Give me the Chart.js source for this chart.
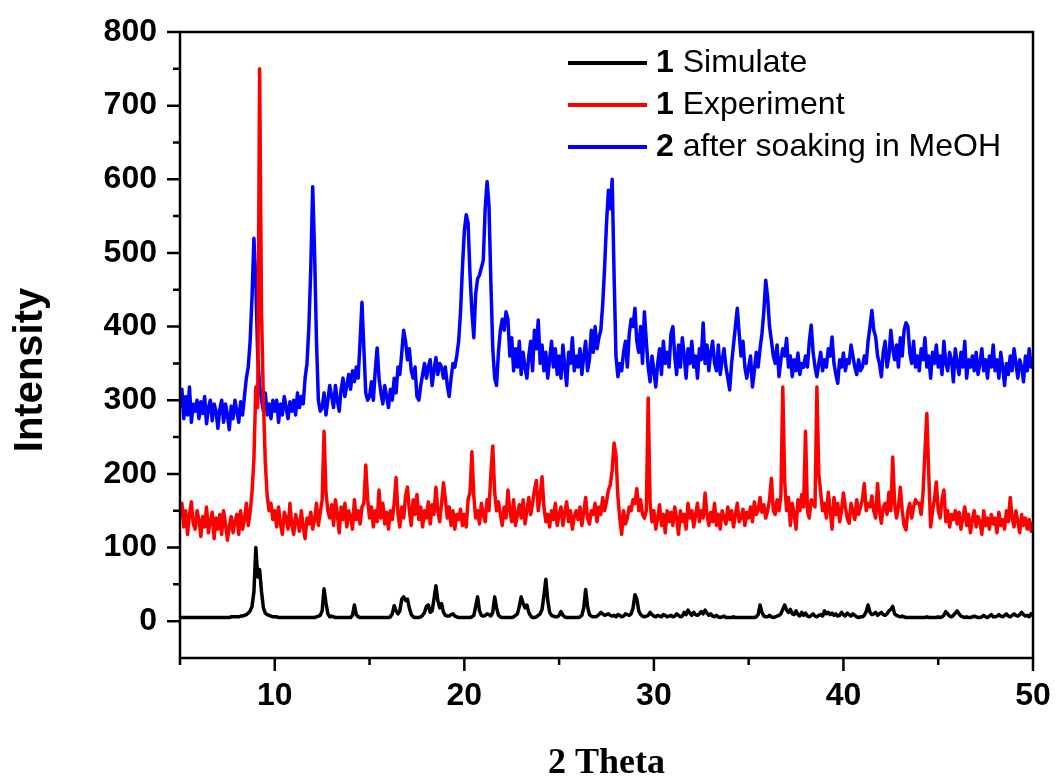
<!DOCTYPE html>
<html lang="en">
<head>
  <meta charset="UTF-8">
  <title>PXRD patterns</title>
  <script src="https://cdn.jsdelivr.net/npm/chart.js"></script>
  <style>
    body { margin: 0; background: #fff; }
    #wrap { width: 1058px; height: 782px; }
  </style>
</head>
<body>
  <div id="wrap"><canvas id="xrd" width="1058" height="782"></canvas></div>

  <script>
    // 2-theta grid: 5.0 to 50.0 in steps of 0.1 degree
    const thetaStart = 5;
    const thetaStep = 0.1;

    // tick values on the axes
    const xTickLabels = [10, 20, 30, 40, 50];
    const yTickLabels = [0, 100, 200, 300, 400, 500, 600, 700, 800];

    // legend text: bold prefix + plain text
    const seriesPrefix = ['1', '1', '2'];
    const seriesNames = ['Simulate', 'Experiment', 'after soaking in MeOH'];
    const seriesColors = ['#000000', '#ff0000', '#0000ff'];

    // 1 Simulate (one row per degree, 5.0 ... 49.9, then 50.0)
    const simulate = [
      5,5,5,5,5,5,5,5,5,5,
      5,5,5,5,5,5,5,5,5,5,
      5,5,5,5,5,5,5,6,6,6,
      6,6,7,7,8,9,11,14,20,40,
      100,60,70,40,18,11,9,8,7,6,
      6,6,5,5,5,5,5,5,5,5,
      5,5,5,5,5,5,5,5,5,5,
      5,5,6,7,8,14,44,25,10,6,
      7,6,5,5,5,5,5,5,5,5,
      5,8,22,9,6,5,5,5,5,5,
      5,5,5,5,5,5,5,5,5,5,
      5,6,10,21,14,10,14,30,33,28,
      30,18,9,6,5,5,5,6,8,12,
      20,22,12,14,30,48,28,18,24,12,
      8,7,7,9,10,7,6,5,5,5,
      5,5,5,5,6,8,20,33,14,8,
      7,8,10,9,7,12,33,18,8,6,
      5,5,5,5,5,5,6,8,10,20,
      33,24,18,22,12,7,5,5,6,8,
      10,16,35,57,28,12,8,7,6,6,
      8,13,8,6,5,5,5,5,5,5,
      5,6,8,18,43,20,9,7,6,6,
      7,9,12,10,8,9,10,8,7,8,
      6,9,8,6,7,10,9,8,10,18,
      36,30,14,9,7,6,7,8,12,9,
      7,6,8,7,6,9,8,6,7,8,
      6,7,10,8,6,7,12,9,15,11,
      8,12,9,8,10,13,10,15,11,8,
      10,7,6,8,6,5,6,7,5,5,
      5,5,6,5,5,5,5,5,5,5,
      5,5,5,5,6,9,22,12,7,6,
      6,8,6,5,6,7,8,10,16,22,
      15,12,16,10,9,14,9,7,12,8,
      11,7,6,8,10,7,6,8,9,7,
      14,10,12,9,11,8,10,7,8,12,
      9,7,11,9,7,10,8,6,5,6,
      6,8,13,22,12,9,10,12,8,10,
      12,9,8,10,14,16,20,10,8,7,
      6,7,6,5,5,5,5,5,5,5,
      5,5,5,5,6,5,5,5,5,5,
      6,5,6,8,13,10,7,6,8,11,
      14,10,7,6,5,6,5,5,6,7,
      6,5,5,6,8,6,5,7,9,6,
      6,7,9,7,6,8,10,7,6,8,
      10,8,7,9,12,9,7,8,6,10,
      8
    ];

    // 1 Experiment
    const experiment = [
      140,160,128,150,118,145,162,132,125,150,
      138,115,142,128,155,120,135,148,112,140,
      125,145,118,150,132,110,128,142,120,135,
      145,118,150,125,138,160,130,148,175,220,
      318,290,750,420,300,215,170,150,160,138,
      150,128,155,132,118,148,140,125,160,130,
      118,145,135,122,150,128,112,140,132,148,
      125,138,160,130,148,165,258,175,150,140,
      158,130,165,145,120,155,138,160,128,150,
      142,125,165,138,150,132,155,160,212,165,
      140,155,128,150,135,178,140,160,132,148,
      125,150,138,160,195,145,128,155,140,170,
      182,150,130,165,145,172,138,155,128,150,
      140,162,132,158,145,182,150,135,160,188,
      165,140,155,130,150,125,145,138,152,130,
      145,128,165,175,230,170,140,150,132,160,
      145,135,165,150,200,238,175,150,162,145,
      130,155,140,178,150,135,165,130,145,158,
      140,165,132,150,168,145,160,178,191,150,
      170,196,155,135,145,128,150,138,160,130,
      145,155,130,148,162,135,150,125,142,150,
      138,155,130,148,168,140,132,150,145,160,
      135,155,145,168,150,162,178,185,205,242,
      225,170,140,118,150,132,140,155,150,165,
      160,180,150,165,145,140,150,303,160,135,
      150,125,140,158,130,145,120,150,135,148,
      130,155,140,118,150,135,145,125,160,140,
      150,128,145,160,135,150,140,174,145,130,
      148,135,160,130,145,125,150,140,132,155,
      138,150,128,145,160,135,140,152,130,148,
      140,155,135,162,145,150,168,148,158,140,
      150,165,194,150,145,165,150,170,318,190,
      150,168,130,160,145,125,165,150,172,155,
      258,150,140,165,160,155,318,200,174,150,
      160,140,175,150,125,168,145,160,135,150,
      174,155,140,133,160,150,138,165,145,155,
      165,187,150,160,155,170,150,140,187,150,
      133,155,160,145,175,150,223,160,140,155,
      182,150,130,124,150,160,140,155,165,160,
      160,145,175,230,282,200,128,150,165,189,
      150,140,165,178,135,150,128,145,138,150,
      132,148,125,140,155,130,145,120,138,150,
      128,142,135,118,150,130,140,125,145,132,
      140,120,148,130,138,125,150,135,168,140,
      128,150,135,120,145,130,140,125,138,122,
      135
    ];

    // 2 after soaking in MeOH
    const soaked = [
      290,315,275,305,280,318,270,295,285,300,
      275,298,282,305,268,290,300,272,295,285,
      262,288,300,270,295,280,260,292,275,300,
      285,270,298,280,305,330,345,380,440,520,
      460,360,320,300,285,310,280,295,275,300,
      285,300,270,295,280,305,290,275,298,285,
      300,280,310,290,305,295,330,350,400,480,
      590,500,380,300,285,290,310,280,300,320,
      305,290,320,300,285,315,330,305,320,335,
      315,340,325,345,330,380,433,370,310,300,
      305,325,300,340,371,330,310,295,320,305,
      290,315,300,330,310,345,335,365,395,380,
      355,370,340,330,345,305,300,320,335,350,
      330,345,355,320,340,358,335,350,345,330,
      345,320,305,330,350,345,360,380,420,480,
      530,552,540,470,420,385,445,465,470,480,
      490,560,597,565,460,370,330,320,365,395,
      410,395,420,410,360,385,340,370,345,380,
      335,365,345,330,360,380,340,395,370,409,
      350,375,340,365,330,355,380,345,370,335,
      360,330,375,345,320,365,350,385,340,360,
      345,370,335,360,380,340,355,395,365,400,
      370,385,395,430,480,540,585,560,600,470,
      360,332,350,340,365,380,345,390,410,400,
      425,380,365,400,350,420,380,345,325,360,
      340,318,350,370,335,380,350,365,345,390,
      400,360,335,375,345,385,360,330,370,350,
      380,345,360,330,370,355,405,350,375,340,
      365,380,350,340,375,335,355,370,345,330,
      314,350,375,400,425,390,360,380,345,330,
      345,360,318,340,365,345,370,390,420,463,
      440,400,381,360,350,375,332,355,370,360,
      384,345,360,332,355,340,364,335,350,345,
      360,345,380,402,365,345,332,350,365,340,
      355,345,370,360,386,350,335,323,355,345,
      364,340,355,350,375,360,345,335,355,340,
      345,360,350,380,400,422,395,386,360,350,
      332,365,380,345,360,395,370,355,375,345,
      385,360,395,405,400,365,350,380,345,360,
      340,370,355,385,345,360,330,365,350,375,
      345,360,335,380,350,340,365,355,325,370,
      350,335,365,345,380,330,355,345,360,340,
      365,335,350,370,340,355,330,360,345,375,
      340,355,330,365,345,320,350,335,360,340,
      370,350,330,355,345,325,360,340,370,345,
      355
    ];

    function toPoints(values) {
      return values.map((v, i) => ({ x: +(thetaStart + i * thetaStep).toFixed(1), y: v }));
    }

    const sansFont = "'Liberation Sans', Arial, sans-serif";
    Chart.defaults.font.family = sansFont;
    Chart.defaults.color = '#000';

    // box frame, outward ticks, y title and the legend
    const frameAndLegend = {
      id: 'frameAndLegend',
      afterDraw(chart) {
        const { ctx, chartArea: a, scales: { x, y } } = chart;
        ctx.save();
        ctx.strokeStyle = '#000';
        ctx.lineWidth = 2.5;
        ctx.strokeRect(a.left, a.top, a.right - a.left, a.bottom - a.top);

        ctx.beginPath();
        x.ticks.forEach(t => {
          const px = x.getPixelForValue(t.value);
          const len = xTickLabels.includes(t.value) ? 13 : 7;
          ctx.moveTo(px, a.bottom);
          ctx.lineTo(px, a.bottom + len);
        });
        y.ticks.forEach(t => {
          if (t.value < 0) return;
          const py = y.getPixelForValue(t.value);
          const len = yTickLabels.includes(t.value) ? 13 : 7;
          ctx.moveTo(a.left, py);
          ctx.lineTo(a.left - len, py);
        });
        ctx.stroke();

        // y axis title, sits a little below the middle of the axis
        ctx.save();
        ctx.translate(31, 370);
        ctx.rotate(-Math.PI / 2);
        ctx.font = 'bold 40px ' + sansFont;
        ctx.fillStyle = '#000';
        ctx.textAlign = 'center';
        ctx.textBaseline = 'middle';
        ctx.fillText('Intensity', 0, 0);
        ctx.restore();

        // legend
        const lineX0 = 568, lineX1 = 647, textX = 656;
        const rowY = [63, 105, 147];
        ctx.textBaseline = 'middle';
        ctx.fillStyle = '#000';
        seriesNames.forEach((name, i) => {
          ctx.strokeStyle = seriesColors[i];
          ctx.lineWidth = 4;
          ctx.beginPath();
          ctx.moveTo(lineX0, rowY[i]);
          ctx.lineTo(lineX1, rowY[i]);
          ctx.stroke();
          ctx.font = 'bold 32px ' + sansFont;
          ctx.fillText(seriesPrefix[i], textX, rowY[i]);
          const w = ctx.measureText(seriesPrefix[i]).width;
          ctx.font = '32px ' + sansFont;
          ctx.fillText(' ' + name, textX + w, rowY[i]);
        });
        ctx.restore();
      }
    };

    const series = [simulate, experiment, soaked];

    new Chart(document.getElementById('xrd'), {
      type: 'line',
      data: {
        datasets: series.map((vals, i) => ({
          label: seriesPrefix[i] + ' ' + seriesNames[i],
          data: toPoints(vals),
          borderColor: seriesColors[i],
          borderWidth: 3.5,
          pointRadius: 0,
          tension: 0,
          borderJoinStyle: 'round',
          fill: false
        }))
      },
      options: {
        responsive: false,
        animation: false,
        layout: { padding: { top: 32, right: 25, left: 0, bottom: 0 } },
        plugins: {
          legend: { display: false },
          tooltip: { enabled: false }
        },
        scales: {
          x: {
            type: 'linear',
            min: 5,
            max: 50,
            afterFit: s => { s.height = 124; },
            grid: { display: false, drawTicks: true, tickLength: 19 },
            border: { display: false },
            ticks: {
              stepSize: 5,
              autoSkip: false,
              maxTicksLimit: 20,
              maxRotation: 0,
              padding: 0,
              font: { size: 32, weight: 'bold' },
              callback: v => xTickLabels.includes(v) ? String(v) : ''
            },
            title: {
              display: true,
              text: '2 Theta',
              font: { family: "'Liberation Serif', 'Times New Roman', serif", size: 36, weight: 'bold', lineHeight: 1 },
              padding: { top: 0, bottom: 0 }
            }
          },
          y: {
            min: -50,
            max: 800,
            afterFit: s => { s.width = 180; },
            grid: { display: false, drawTicks: true, tickLength: 23 },
            border: { display: false },
            ticks: {
              stepSize: 50,
              autoSkip: false,
              maxTicksLimit: 30,
              padding: 0,
              font: { size: 32, weight: 'bold' },
              callback: v => yTickLabels.includes(v) ? String(v) : ''
            }
          }
        }
      },
      plugins: [frameAndLegend]
    });
  </script>
</body>
</html>
